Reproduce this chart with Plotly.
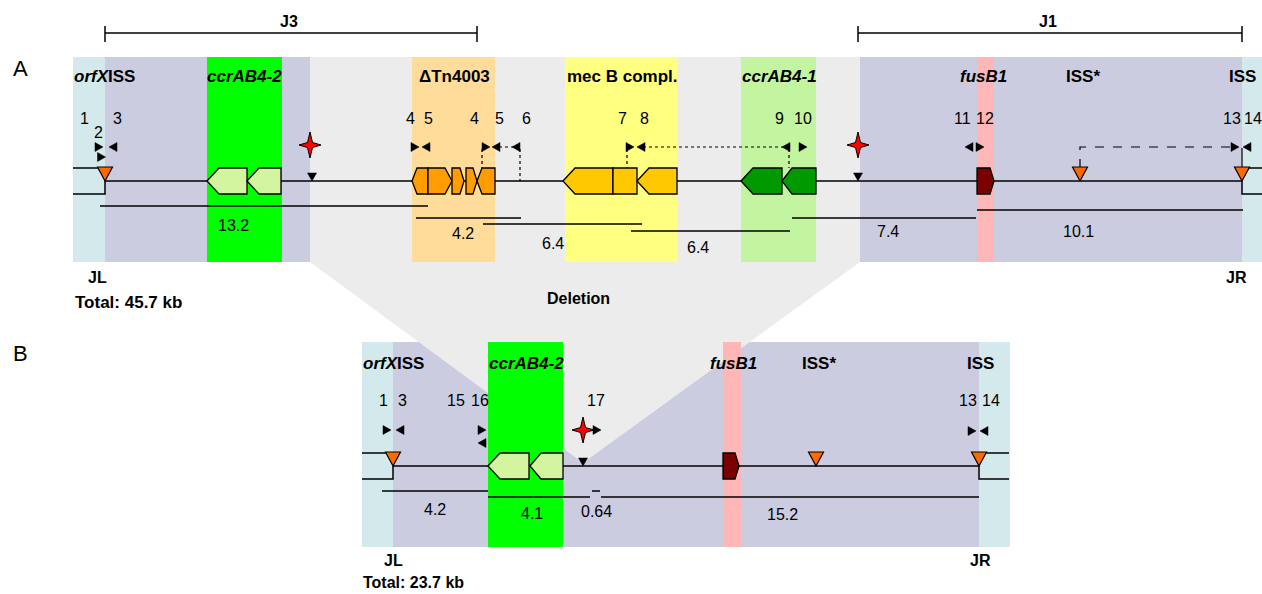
import plotly.graph_objects as go

# ====================== DATA ======================
W, H = 1262, 594
A_TOP, A_BOT, A_TRACK = 57, 262, 181
B_TOP, B_BOT, B_TRACK = 342, 547, 466
GENE_H = 26

# background regions
A_reg_x0 = [73, 105, 860, 1242]
A_reg_x1 = [105, 310, 1242, 1262]
A_reg_kind = ["junc", "scc", "scc", "junc"]
A_hl_x0 = [207, 412, 565, 741, 977]
A_hl_x1 = [282, 495, 677, 816, 994]
A_hl_kind = ["ccr2", "tn", "mec", "ccr1", "fus"]

B_reg_x0 = [362, 393, 979]
B_reg_x1 = [393, 979, 1010]
B_reg_kind = ["junc", "scc", "junc"]
B_hl_x0 = [488, 723]
B_hl_x1 = [563, 741]
B_hl_kind = ["ccr2", "fus"]

# deleted region (A) collapsing to a point (B)
DEL_x = [310, 860, 860, 583, 310]
DEL_y = [57, 57, 262, 463, 262]

# genes
A_gene_x0 = [207, 247, 412, 428, 452, 466, 477, 563, 613, 637, 741, 782, 977]
A_gene_x1 = [247, 281, 428, 452, 464, 477, 495, 613, 637, 677, 782, 816, 994]
A_gene_dir = ["L", "L", "L", "R", "R", "R", "L", "L", "N", "L", "L", "L", "R"]
A_gene_head = [12, 12, 5, 7, 4, 4, 5, 12, 0, 12, 12, 10, 4]
A_gene_kind = ["ccrg", "ccrg", "tng", "tng", "tng", "tng", "tng",
               "mecg", "mecg", "mecg", "ccr1g", "ccr1g", "fusg"]
B_gene_x0 = [488, 530, 723]
B_gene_x1 = [529, 563, 739]
B_gene_dir = ["L", "L", "R"]
B_gene_head = [12, 11, 4]
B_gene_kind = ["ccrg", "ccrg", "fusg"]

# ISS (orange triangles), att sites, stars
A_iss_x = [105, 1080, 1242]
B_iss_x = [393, 816, 979]
A_att_x = [312, 858]
B_att_x = [583]
A_star_x, A_star_y = [310, 858], [145, 145]
B_star_x, B_star_y = [583], [430]

# primers
A_primer_x = [99, 113, 101.5, 415, 426, 486, 496, 516, 630, 641, 786, 803, 969, 980, 1235, 1247]
A_primer_y = [147, 147, 157, 147, 147, 147, 147, 147, 147, 147, 147, 147, 147, 147, 147, 147]
A_primer_dir = ["R", "L", "R", "R", "L", "R", "L", "L", "R", "L", "L", "R", "L", "R", "R", "L"]
B_primer_x = [387, 400, 482, 482, 597, 972, 984]
B_primer_y = [430, 430, 430, 443, 430, 431, 431]
B_primer_dir = ["R", "L", "R", "L", "R", "R", "L"]

A_num_text = ["1", "2", "3", "4", "5", "4", "5", "6", "7", "8", "9", "10", "11", "12", "13", "14"]
A_num_x = [84, 98, 117, 410, 428, 474, 499, 526, 622, 644, 779, 803, 962, 985, 1232, 1253]
A_num_y = [118, 132, 118, 118, 118, 118, 118, 118, 118, 118, 118, 118, 118, 118, 118, 118]
B_num_text = ["1", "3", "15", "16", "17", "13", "14"]
B_num_x = [383, 402, 456, 480, 596, 968, 991]
B_num_y = [400, 400, 400, 400, 400, 400, 400]

# element labels
A_lab_text = ["<i>orfX</i>ISS", "<i>ccrAB4-2</i>", "ΔTn4003", "mec B compl.",
              "<i>ccrAB4-1</i>", "<i>fusB1</i>", "ISS*", "ISS"]
A_lab_x = [72, 244, 454, 622, 779, 983, 1083, 1242]
A_lab_anchor = ["left", "center", "center", "center", "center", "center", "center", "center"]
B_lab_text = ["<i>orfX</i>ISS", "<i>ccrAB4-2</i>", "<i>fusB1</i>", "ISS*", "ISS"]
B_lab_x = [361, 526, 733, 819, 980]
B_lab_anchor = ["left", "center", "center", "center", "center"]

# size bars (kb)
A_size_x0 = [100, 416, 483, 631, 792, 977]
A_size_x1 = [428, 521, 642, 790, 976, 1243]
A_size_y = [206, 218, 224, 231, 218, 210]
A_size_lab = ["13.2", "4.2", "6.4", "6.4", "7.4", "10.1"]
A_size_lx = [233, 463, 553, 698, 888, 1078]
A_size_ly = [225, 233, 243, 247, 231, 231]
B_size_x0 = [382, 488, 592, 601]
B_size_x1 = [488, 590, 600, 979]
B_size_y = [491, 497, 491, 497]
B_size_lab = ["4.2", "4.1", "0.64", "15.2"]
B_size_lx = [435, 532, 596, 782]
B_size_ly = [509, 513, 511, 514]

# junction brackets
BR_lab = ["J3", "J1"]
BR_x0 = [105, 858]
BR_x1 = [477, 1242]
BR_y = 33

# connectors (polylines) in panel A
CON_pts = [
    [(482, 149), (482, 168)],
    [(499, 147), (514, 147)],
    [(520, 149), (520, 181)],
    [(627, 149), (627, 168)],
    [(643, 147), (784, 147)],
    [(789, 149), (789, 168)],
    [(1080, 168), (1080, 147), (1233, 147)],
    [(1242, 148), (1242, 168)],
]
CON_dash = ["dot", "dot", "dot", "dot", "dot", "dot", "dash", "solid"]

# ====================== STYLE ======================
COL = {
    "junc": "#d3e9ec", "scc": "#cccce0", "del": "#ececec",
    "ccr2": "#00ff00", "tn": "#ffdc9a", "mec": "#ffff80", "ccr1": "#c3f5a0", "fus": "#ffb6b6",
    "ccrg": "#d4f5a0", "tng": "#ff9c00", "mecg": "#ffc800", "ccr1g": "#009900", "fusg": "#7a0000",
    "iss": "#ff6a00", "star": "#ff0000",
}
FONT = "Liberation Sans, Arial, Helvetica, sans-serif"
LAB_SIZE, NUM_SIZE = 17, 16

shapes = []


def path(pts, close=True):
    s = "M " + " L ".join(f"{x},{y}" for x, y in pts)
    return s + (" Z" if close else "")


def rect(x0, x1, y0, y1, color):
    shapes.append(dict(type="rect", xref="x", yref="y", x0=x0, x1=x1, y0=y0, y1=y1,
                       fillcolor=color, line=dict(width=0), layer="above"))


def poly(pts, fill, lw=1.2, lc="black"):
    shapes.append(dict(type="path", xref="x", yref="y", path=path(pts), fillcolor=fill,
                       line=dict(color=lc, width=lw)))


def pline(pts, w=1.5, dash="solid", color="black"):
    shapes.append(dict(type="path", xref="x", yref="y", path=path(pts, close=False),
                       line=dict(color=color, width=w, dash=dash)))


def gene(x0, x1, yc, d, head, color):
    t, b = yc - GENE_H / 2, yc + GENE_H / 2
    if d == "L":
        pts = [(x0, yc), (x0 + head, t), (x1, t), (x1, b), (x0 + head, b)]
    elif d == "R":
        pts = [(x1, yc), (x1 - head, t), (x0, t), (x0, b), (x1 - head, b)]
    else:
        pts = [(x0, t), (x1, t), (x1, b), (x0, b)]
    poly(pts, color, lw=1.3)


def iss(x, yc):
    poly([(x - 7.5, yc - 14), (x + 7.5, yc - 14), (x, yc)], COL["iss"], lw=1.2)


def att(x, yc):
    poly([(x - 4.5, yc - 8), (x + 4.5, yc - 8), (x, yc)], "black", lw=0.5)


def star(x, y):
    pts = [(x, y - 13), (x + 2.5, y - 2.5), (x + 11, y), (x + 2.5, y + 2.5),
           (x, y + 13), (x - 2.5, y + 2.5), (x - 11, y), (x - 2.5, y - 2.5)]
    poly(pts, COL["star"], lw=1.0)


def primer(x, y, d):
    if d == "R":
        pts = [(x - 4, y - 4.5), (x + 4, y), (x - 4, y + 4.5)]
    else:
        pts = [(x + 4, y - 4.5), (x - 4, y), (x + 4, y + 4.5)]
    poly(pts, "black", lw=0.5)


# ---------- backgrounds ----------
for x0, x1, k in zip(A_reg_x0, A_reg_x1, A_reg_kind):
    rect(x0, x1, A_TOP, A_BOT, COL[k])
for x0, x1, k in zip(B_reg_x0, B_reg_x1, B_reg_kind):
    rect(x0, x1, B_TOP, B_BOT, COL[k])
poly(list(zip(DEL_x, DEL_y)), COL["del"], lw=0, lc=COL["del"])
for x0, x1, k in zip(A_hl_x0, A_hl_x1, A_hl_kind):
    rect(x0, x1, A_TOP, A_BOT, COL[k])
for x0, x1, k in zip(B_hl_x0, B_hl_x1, B_hl_kind):
    rect(x0, x1, B_TOP, B_BOT, COL[k])

# ---------- brackets ----------
for x0, x1 in zip(BR_x0, BR_x1):
    pline([(x0, BR_y), (x1, BR_y)], w=1.5)
    pline([(x0, BR_y - 7), (x0, BR_y + 9)], w=1.5)
    pline([(x1, BR_y - 7), (x1, BR_y + 9)], w=1.5)

# ---------- tracks & chromosome stubs ----------
pline([(A_reg_x1[0], A_TRACK), (A_reg_x0[-1], A_TRACK)])
pline([(A_reg_x0[0], A_TRACK - 13), (A_reg_x1[0], A_TRACK - 13)])
pline([(A_reg_x0[0], A_TRACK + 13), (A_reg_x1[0], A_TRACK + 13), (A_reg_x1[0], A_TRACK)])
pline([(A_reg_x1[-1], A_TRACK - 13), (A_reg_x0[-1], A_TRACK - 13)])
pline([(A_reg_x1[-1], A_TRACK + 13), (A_reg_x0[-1], A_TRACK + 13), (A_reg_x0[-1], A_TRACK)])

pline([(B_reg_x1[0], B_TRACK), (B_reg_x0[-1], B_TRACK)])
pline([(B_reg_x0[0], B_TRACK - 13), (B_reg_x1[0], B_TRACK - 13)])
pline([(B_reg_x0[0], B_TRACK + 13), (B_reg_x1[0], B_TRACK + 13), (B_reg_x1[0], B_TRACK)])
pline([(B_reg_x1[-1] - 1, B_TRACK - 13), (B_reg_x0[-1], B_TRACK - 13)])
pline([(B_reg_x1[-1] - 1, B_TRACK + 13), (B_reg_x0[-1], B_TRACK + 13), (B_reg_x0[-1], B_TRACK)])

# ---------- connectors ----------
for pts, d in zip(CON_pts, CON_dash):
    pline(pts, w=1.2, dash=d)

# ---------- size bars ----------
for x0, x1, y in zip(A_size_x0, A_size_x1, A_size_y):
    pline([(x0, y), (x1, y)], w=1.5)
for x0, x1, y in zip(B_size_x0, B_size_x1, B_size_y):
    pline([(x0, y), (x1, y)], w=1.5)

# ---------- genes ----------
for x0, x1, d, h, k in zip(A_gene_x0, A_gene_x1, A_gene_dir, A_gene_head, A_gene_kind):
    gene(x0, x1, A_TRACK, d, h, COL[k])
for x0, x1, d, h, k in zip(B_gene_x0, B_gene_x1, B_gene_dir, B_gene_head, B_gene_kind):
    gene(x0, x1, B_TRACK, d, h, COL[k])

# ---------- markers ----------
for x in A_iss_x:
    iss(x, A_TRACK)
for x in B_iss_x:
    iss(x, B_TRACK)
for x in A_att_x:
    att(x, A_TRACK)
for x in B_att_x:
    att(x, B_TRACK)
for x, y in zip(A_star_x, A_star_y):
    star(x, y)
for x, y in zip(B_star_x, B_star_y):
    star(x, y)
for x, y, d in zip(A_primer_x, A_primer_y, A_primer_dir):
    primer(x, y, d)
for x, y, d in zip(B_primer_x, B_primer_y, B_primer_dir):
    primer(x, y, d)

# ---------- text ----------
ann = []


def txt(x, y, t, size=NUM_SIZE, bold=False, anchor="center"):
    ann.append(dict(x=x, y=y, xref="x", yref="y", text=(f"<b>{t}</b>" if bold else t),
                    showarrow=False, xanchor=anchor, yanchor="middle",
                    font=dict(family=FONT, size=size, color="black")))


txt(20, 68, "A", size=22)
txt(20, 353, "B", size=22)
for lab, x0, x1 in zip(BR_lab, BR_x0, BR_x1):
    txt((x0 + x1) / 2 - (x1 - x0) * 0.005, 21, lab, size=16, bold=True)
for t, x, a in zip(A_lab_text, A_lab_x, A_lab_anchor):
    txt(x, 76, t, size=LAB_SIZE, bold=True, anchor=a)
for t, x, a in zip(B_lab_text, B_lab_x, B_lab_anchor):
    txt(x, 363, t, size=LAB_SIZE, bold=True, anchor=a)
for t, x, y in zip(A_num_text, A_num_x, A_num_y):
    txt(x, y, t)
for t, x, y in zip(B_num_text, B_num_x, B_num_y):
    txt(x, y, t)
for t, x, y in zip(A_size_lab, A_size_lx, A_size_ly):
    txt(x, y, t)
for t, x, y in zip(B_size_lab, B_size_lx, B_size_ly):
    txt(x, y, t)

txt(97, 277, "JL", size=16, bold=True)
txt(1236, 277, "JR", size=16, bold=True)
txt(73, 302, "Total: 45.7 kb", size=17, bold=True, anchor="left")
txt(578, 298, "Deletion", size=16, bold=True)
txt(393, 560, "JL", size=16, bold=True)
txt(980, 560, "JR", size=16, bold=True)
txt(361, 582, "Total: 23.7 kb", size=16, bold=True, anchor="left")

fig = go.Figure()
fig.add_trace(go.Scatter(x=[0, W], y=[0, H], mode="markers", marker=dict(opacity=0),
                         hoverinfo="skip", showlegend=False))
fig.update_layout(
    width=W, height=H, margin=dict(l=0, r=0, t=0, b=0),
    paper_bgcolor="white", plot_bgcolor="white",
    xaxis=dict(range=[0, W], visible=False, fixedrange=True),
    yaxis=dict(range=[H, 0], visible=False, fixedrange=True),
    shapes=shapes, annotations=ann, showlegend=False,
)
fig.write_html("out.html", config={"displayModeBar": False},
               post_script="document.body.style.margin='0';document.body.style.overflow='hidden';")
